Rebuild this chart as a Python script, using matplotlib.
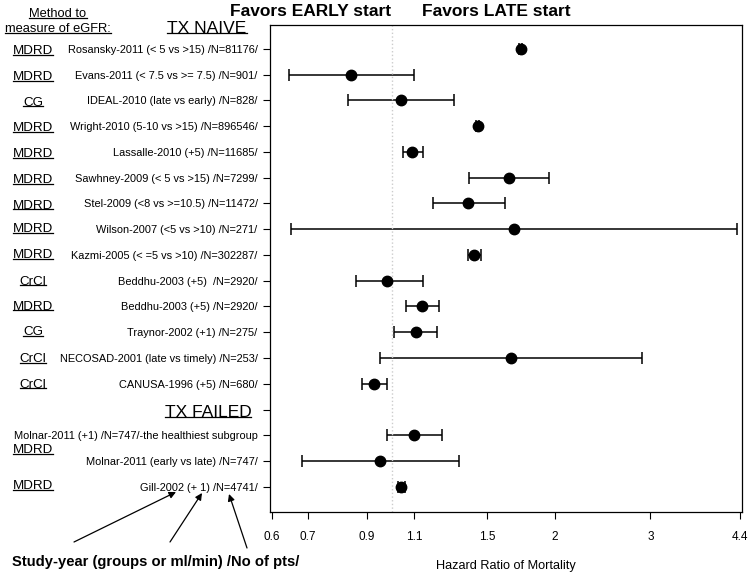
import numpy as np
import matplotlib.pyplot as plt
from matplotlib.lines import Line2D
from matplotlib.transforms import blended_transform_factory

# Data
studies = [
    "Rosansky-2011 (< 5 vs >15) /N=81176/",
    "Evans-2011 (< 7.5 vs >= 7.5) /N=901/",
    "IDEAL-2010 (late vs early) /N=828/",
    "Wright-2010 (5-10 vs >15) /N=896546/",
    "Lassalle-2010 (+5) /N=11685/",
    "Sawhney-2009 (< 5 vs >15) /N=7299/",
    "Stel-2009 (<8 vs >=10.5) /N=11472/",
    "Wilson-2007 (<5 vs >10) /N=271/",
    "Kazmi-2005 (< =5 vs >10) /N=302287/",
    "Beddhu-2003 (+5)  /N=2920/",
    "Beddhu-2003 (+5) /N=2920/",
    "Traynor-2002 (+1) /N=275/",
    "NECOSAD-2001 (late vs timely) /N=253/",
    "CANUSA-1996 (+5) /N=680/",
    "",
    "Molnar-2011 (+1) /N=747/-the healthiest subgroup",
    "Molnar-2011 (early vs late) /N=747/",
    "Gill-2002 (+ 1) /N=4741/",
]
hr = [1.73, 0.84, 1.04, 1.44, 1.09, 1.645, 1.38, 1.68, 1.42, 0.98, 1.138, 1.11,
      1.66, 0.927, np.nan, 1.10, 0.951, 1.04]
lo = [1.72, 0.645, 0.83, 1.43, 1.05, 1.39, 1.19, 0.651, 1.385, 0.859, 1.063, 1.01,
      0.951, 0.881, np.nan, 0.98, 0.682, 1.025]
hi = [1.74, 1.10, 1.30, 1.45, 1.143, 1.95, 1.615, 4.33, 1.464, 1.143, 1.224, 1.213,
      2.90, 0.98, np.nan, 1.24, 1.333, 1.06]

methods = ["MDRD", "MDRD", "CG", "MDRD", "MDRD", "MDRD", "MDRD", "MDRD", "MDRD",
           "CrCl", "MDRD", "CG", "CrCl", "CrCl", "MDRD", "MDRD"]
method_rows = [0.0, 1.0, 2.0, 3.0, 4.0, 5.0, 6.0, 6.92, 7.92, 8.95, 9.92,
               10.92, 11.95, 12.95, 15.5, 16.9]

xticks = [0.6, 0.7, 0.9, 1.1, 1.5, 2, 3, 4.4]
xticklabels = ["0.6", "0.7", "0.9", "1.1", "1.5", "2", "3", "4.4"]

SANS = ["Liberation Sans", "DejaVu Sans"]

W, H = 752, 578
fig = plt.figure(figsize=(W / 100, H / 100), dpi=100)
ax = fig.add_axes([270 / W, 1 - 512 / H, 472 / W, 487 / H])

y = np.arange(len(studies))
hr_a = np.array(hr)
err = np.vstack([hr_a - np.array(lo), np.array(hi) - hr_a])
ax.errorbar(hr_a, y, xerr=err, fmt="o", color="black", ecolor="black",
            markersize=7.5, elinewidth=1.1, capsize=4, capthick=1.1)
ax.axvline(1.0, color="#cccccc", linestyle=":", linewidth=1)

ax.set_xscale("log")
ax.set_xlim(0.596, 4.43)
ax.set_ylim(17.98, -0.93)
ax.set_xticks(xticks)
ax.set_xticklabels(xticklabels, family=SANS, fontsize=8.5)
ax.minorticks_off()
ax.set_yticks(y)
ax.set_yticklabels(studies, family=SANS, fontsize=7.9)
ax.tick_params(axis="both", length=5, width=0.8, pad=4)
ax.tick_params(axis="x", pad=9)
for s in ax.spines.values():
    s.set_linewidth(0.9)
ax.set_xlabel("Hazard Ratio of Mortality", family=SANS, fontsize=9.2, labelpad=12)

# Titles and section headers
fig.text(311 / W, 1 - 11 / H, "Favors EARLY start", ha="center", va="center",
         family=SANS, fontsize=12.5, fontweight="bold")
fig.text(496 / W, 1 - 11 / H, "Favors LATE start", ha="center", va="center",
         family=SANS, fontsize=12.5, fontweight="bold")

under = []
under.append(fig.text(207 / W, 1 - 33 / H, "TX NAIVE", ha="center", va="baseline",
                      family=SANS, fontsize=12.5))
under.append(fig.text(208 / W, 1 - 417 / H, "TX FAILED", ha="center", va="baseline",
                      family=SANS, fontsize=12.5))
under.append(fig.text(58 / W, 1 - 17 / H, "Method to", ha="center", va="baseline",
                      family=SANS, fontsize=9.3))
under.append(fig.text(58 / W, 1 - 32 / H, "measure of eGFR:", ha="center", va="baseline",
                      family=SANS, fontsize=9.3))

# method labels sit on the row baseline (offset a bit below row centre)
mtrans = blended_transform_factory(fig.transFigure, ax.transData)
for m, r in zip(methods, method_rows):
    under.append(fig.text(33 / W, r + 0.2, m, ha="center", va="baseline", transform=mtrans,
                          family=SANS, fontsize=9.6))

fig.text(12 / W, 1 - 562 / H, "Study-year (groups or ml/min) /No of pts/", ha="left",
         va="center", family=SANS, fontsize=10.6, fontweight="bold")

# Arrows pointing at the parts of a study label
arrows = [((74, 542), (176, 492)), ((170, 542), (202, 493)), ((247, 548), (229, 494))]
for (x0, y0), (x1, y1) in arrows:
    fig.add_artist(plt.Annotation("", xy=(x1 / W, 1 - y1 / H), xytext=(x0 / W, 1 - y0 / H),
                                  xycoords="figure fraction", textcoords="figure fraction",
                                  arrowprops=dict(arrowstyle="-|>", color="black", lw=0.9,
                                                  mutation_scale=10, shrinkA=0, shrinkB=0)))

# Underline the labels
fig.canvas.draw()
r = fig.canvas.get_renderer()
for t in under:
    bb = t.get_window_extent(renderer=r)
    d = t.get_fontsize() * 100 / 72 * 0.17
    yy = (bb.y0 + d) / H
    fig.add_artist(Line2D([bb.x0 / W, bb.x1 / W], [yy, yy], transform=fig.transFigure,
                          color="black", linewidth=0.9))

fig.savefig("out.png", dpi=100)
